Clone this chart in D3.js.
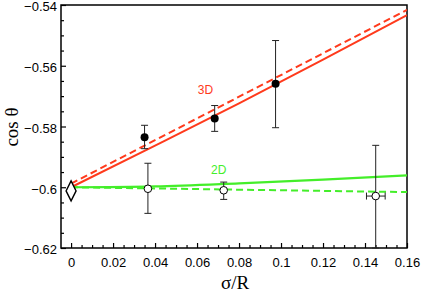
<!DOCTYPE html>
<html><head><meta charset="utf-8">
<script src="https://cdn.jsdelivr.net/npm/d3@7"></script>
<style>body{margin:0;background:#fff}svg{display:block}</style>
</head><body>
<script>
// data
const xTicks = [0, 0.02, 0.04, 0.06, 0.08, 0.1, 0.12, 0.14, 0.16];
const xTickLabels = ["0", "0.02", "0.04", "0.06", "0.08", "0.1", "0.12", "0.14", "0.16"];
const yTicks = [-0.62, -0.6, -0.58, -0.56, -0.54];
const yTickLabels = ["−0.62", "−0.6", "−0.58", "−0.56", "−0.54"];

const pts3D_x = [0.035, 0.0684, 0.0974];
const pts3D_y = [-0.5835, -0.5774, -0.5659];
const pts3D_lo = [-0.5873, -0.5816, -0.5804];
const pts3D_hi = [-0.5796, -0.5731, -0.5517];

const pts2D_x = [0.0366, 0.0727, 0.1451];
const pts2D_y = [-0.6005, -0.6010, -0.6029];
const pts2D_lo = [-0.6086, -0.6040, -0.6200];
const pts2D_hi = [-0.5921, -0.5983, -0.5862];
const pts2D_xlo = [null, null, 0.1407];
const pts2D_xhi = [null, null, 0.1496];

const line3Dsolid_x = [0, 0.04, 0.08, 0.12, 0.16];
const line3Dsolid_y = [-0.6, -0.5863, -0.5724, -0.5580, -0.5433];
const line3Ddash_x = [0, 0.16];
const line3Ddash_y = [-0.5988, -0.5416];
const line2Dsolid_x = [0, 0.04, 0.08, 0.12, 0.16];
const line2Dsolid_y = [-0.6, -0.5997, -0.5987, -0.5975, -0.5961];
const line2Ddash_x = [0, 0.16];
const line2Ddash_y = [-0.6, -0.6016];

const diamond_x = [0];
const diamond_y = [-0.6012];

const labelText = ["3D", "2D"];
const label_x = [0.064, 0.0703];
const label_y = [-0.5694, -0.5958];

const W = 422, H = 292;
const margin = {left: 61, right: 15, top: 5, bottom: 44};
const svg = d3.select("body").append("svg").attr("width", W).attr("height", H);

const x = d3.scaleLinear().domain([-0.0048, 0.16]).range([margin.left, W - margin.right]);
const y = d3.scaleLinear().domain([-0.62, -0.54]).range([H - margin.bottom, margin.top]);

const RED = "#ff3a1c", GREEN = "#44ee2a";

svg.append("clipPath").attr("id", "clip").append("rect")
  .attr("x", x.range()[0]).attr("y", y.range()[1])
  .attr("width", x.range()[1] - x.range()[0]).attr("height", y.range()[0] - y.range()[1]);

// axes
const xMinor = d3.range(0, 0.1601, 0.005).filter(v => Math.abs(v / 0.02 - Math.round(v / 0.02)) > 1e-6);
const yMinor = d3.range(-0.62, -0.5399, 0.005).filter(v => Math.abs(v / 0.02 - Math.round(v / 0.02)) > 1e-6);

const gx = svg.append("g").attr("transform", `translate(0,${y.range()[0]})`)
  .call(d3.axisBottom(x).tickValues(xTicks).tickFormat((d, i) => xTickLabels[i]).tickSize(-5).tickPadding(10));
const gxm = svg.append("g").attr("transform", `translate(0,${y.range()[0]})`)
  .call(d3.axisBottom(x).tickValues(xMinor).tickFormat("").tickSize(-3));
const gy = svg.append("g").attr("transform", `translate(${x.range()[0]},0)`)
  .call(d3.axisLeft(y).tickValues(yTicks).tickFormat((d, i) => yTickLabels[i]).tickSize(-5).tickPadding(4));
const gym = svg.append("g").attr("transform", `translate(${x.range()[0]},0)`)
  .call(d3.axisLeft(y).tickValues(yMinor).tickFormat("").tickSize(-3));
[gx, gxm, gy, gym].forEach(g => {
  g.select(".domain").remove();
  g.selectAll("line").attr("stroke", "#000").attr("stroke-width", 1.2);
  g.selectAll("text").attr("fill", "#000").style("font-family", "'Liberation Sans', Arial, sans-serif").style("font-size", "13px");
});
gy.selectAll("text").attr("dy", "0.45em");

// frame
svg.append("rect").attr("x", x.range()[0]).attr("y", y.range()[1])
  .attr("width", x.range()[1] - x.range()[0]).attr("height", y.range()[0] - y.range()[1])
  .attr("fill", "none").attr("stroke", "#000").attr("stroke-width", 1.5);

const plot = svg.append("g").attr("clip-path", "url(#clip)");
const line = d3.line().x(d => x(d[0])).y(d => y(d[1])).curve(d3.curveMonotoneX);
const mk = (xs, ys) => xs.map((v, i) => [v, ys[i]]);

plot.append("path").datum(mk(line3Ddash_x, line3Ddash_y)).attr("d", line)
  .attr("fill", "none").attr("stroke", RED).attr("stroke-width", 2).attr("stroke-dasharray", "7,4");
plot.append("path").datum(mk(line3Dsolid_x, line3Dsolid_y)).attr("d", line)
  .attr("fill", "none").attr("stroke", RED).attr("stroke-width", 2);
plot.append("path").datum(mk(line2Ddash_x, line2Ddash_y)).attr("d", line)
  .attr("fill", "none").attr("stroke", GREEN).attr("stroke-width", 2).attr("stroke-dasharray", "7,4");
plot.append("path").datum(mk(line2Dsolid_x, line2Dsolid_y)).attr("d", line)
  .attr("fill", "none").attr("stroke", GREEN).attr("stroke-width", 2.2);

// error bars
function errBars(xs, los, his) {
  const g = svg.append("g").attr("stroke", "#222").attr("stroke-width", 1);
  xs.forEach((xv, i) => {
    const px = x(xv);
    g.append("line").attr("x1", px).attr("x2", px).attr("y1", y(los[i])).attr("y2", y(his[i]));
    g.append("line").attr("x1", px - 3.5).attr("x2", px + 3.5).attr("y1", y(los[i])).attr("y2", y(los[i]));
    g.append("line").attr("x1", px - 3.5).attr("x2", px + 3.5).attr("y1", y(his[i])).attr("y2", y(his[i]));
  });
}
errBars(pts3D_x, pts3D_lo, pts3D_hi);
errBars(pts2D_x, pts2D_lo, pts2D_hi);
{
  const g = svg.append("g").attr("stroke", "#222").attr("stroke-width", 1);
  pts2D_x.forEach((xv, i) => {
    if (pts2D_xlo[i] == null) return;
    const py = y(pts2D_y[i]);
    g.append("line").attr("x1", x(pts2D_xlo[i])).attr("x2", x(pts2D_xhi[i])).attr("y1", py).attr("y2", py);
    g.append("line").attr("x1", x(pts2D_xlo[i])).attr("x2", x(pts2D_xlo[i])).attr("y1", py - 3.5).attr("y2", py + 3.5);
    g.append("line").attr("x1", x(pts2D_xhi[i])).attr("x2", x(pts2D_xhi[i])).attr("y1", py - 3.5).attr("y2", py + 3.5);
  });
}

// points
svg.append("g").selectAll("circle").data(mk(pts3D_x, pts3D_y)).join("circle")
  .attr("cx", d => x(d[0])).attr("cy", d => y(d[1])).attr("r", 4).attr("fill", "#000");
svg.append("g").selectAll("circle").data(mk(pts2D_x, pts2D_y)).join("circle")
  .attr("cx", d => x(d[0])).attr("cy", d => y(d[1])).attr("r", 3.8).attr("fill", "#fff").attr("stroke", "#000").attr("stroke-width", 1);

// diamond
svg.append("g").selectAll("path").data(mk(diamond_x, diamond_y)).join("path")
  .attr("d", d => { const cx = x(d[0]), cy = y(d[1]); return `M${cx},${cy - 10}L${cx + 5},${cy}L${cx},${cy + 10}L${cx - 5},${cy}Z`; })
  .attr("fill", "#fff").attr("stroke", "#000").attr("stroke-width", 1.4);

// labels
svg.append("g").selectAll("text").data(labelText).join("text")
  .attr("x", (d, i) => x(label_x[i])).attr("y", (d, i) => y(label_y[i])).attr("text-anchor", "middle")
  .attr("fill", (d, i) => i === 0 ? RED : GREEN)
  .style("font-family", "'Liberation Sans', Arial, sans-serif").style("font-size", "12px").text(d => d);

svg.append("text").attr("x", 235).attr("y", 289).attr("text-anchor", "middle")
  .style("font-family", "'Liberation Serif', 'Times New Roman', serif").style("font-size", "19px").text("σ/R");
svg.append("text").attr("transform", "translate(18,127) rotate(-90)").attr("text-anchor", "middle")
  .style("font-family", "'Liberation Serif', 'Times New Roman', serif").style("font-size", "19px").text("cos θ");
</script>
</body></html>
